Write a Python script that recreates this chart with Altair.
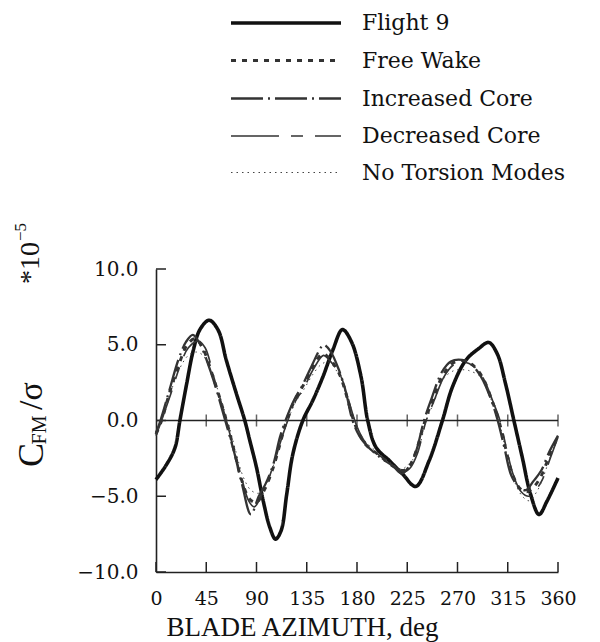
import altair as alt
import pandas as pd

# ---------------- data ----------------
series_names = ["Flight 9", "Free Wake", "Increased Core", "Decreased Core", "No Torsion Modes"]

flight9_az = [0, 9.5, 17, 21.4, 27.4, 33.3, 39.3, 47.6, 55.7, 63, 72, 79.5, 84, 90, 96, 102, 107, 112,
              117, 122.6, 131.5, 140.4, 149.4, 158.3, 167, 175, 183.6, 189.6, 197, 209, 220.8, 232.6,
              244.6, 256.5, 265.4, 277.4, 289, 298, 305.6, 313, 320.5, 328, 335.4, 343, 350.3, 360]
flight9_val = [-3.9, -2.9, -1.8, 0.0, 2.4, 4.6, 6.0, 6.62, 5.96, 3.97, 1.77, 0.0, -1.32, -3.1, -5.3, -7.07, -7.83, -7.28,
               -4.9, -2.2, 0.0, 1.32, 2.87, 4.64, 6.0, 5.2, 2.9, 0.0, -1.77, -2.65, -3.53, -4.35,
               -2.65, 0.0, 2.2, 3.97, 4.75, 5.15, 4.4, 2.43, 0.0, -2.43, -4.86, -6.2, -5.3, -3.8]

freewake_az = [0, 5, 12, 21, 28, 35, 41, 51, 63, 70, 77, 84, 90, 97, 105, 112, 117, 124, 131, 140, 149,
               154, 164, 170, 177, 182, 188, 200, 212, 221, 227, 233, 241, 248, 257, 266, 276, 283, 292,
               301, 307, 313, 319, 326, 332, 338, 344, 352, 360]
freewake_val = [-0.9, 0.0, 1.8, 3.8, 5.0, 5.4, 4.9, 2.9, 0.0, -2.0, -4.0, -5.2, -5.4, -4.6, -3.1, -1.3, 0.0, 1.3,
                2.2, 3.5, 4.4, 4.2, 3.1, 1.8, 0.0, -0.9, -1.6, -2.3, -3.0, -3.3, -3.0, -2.0, 0.0, 1.4, 3.0,
                3.8, 3.95, 3.7, 2.9, 1.3, 0.0, -1.8, -3.5, -4.5, -4.7, -4.4, -3.8, -2.4, -1.0]

inccore_az = [0, 4, 12, 20, 27, 33, 39, 50, 62, 70, 77, 85, 92, 98, 105, 111, 116, 124, 131, 140, 146,
              150, 156, 164, 170, 176, 182, 188, 200, 212, 220, 226, 233, 240, 247, 256, 264, 274, 281,
              291, 300, 306, 312, 318, 325, 331, 338, 345, 352, 360]
inccore_val = [-0.8, 0.0, 2.0, 4.0, 5.2, 5.65, 5.1, 3.0, 0.0, -2.1, -4.2, -6.2, -5.0, -4.2, -2.9, -1.1, 0.0, 1.4,
               2.3, 3.7, 4.6, 5.0, 4.6, 3.3, 1.9, 0.0, -1.0, -1.6, -2.4, -3.0, -3.5, -3.1, -2.0, 0.0, 1.5,
               3.2, 3.9, 4.0, 3.8, 2.9, 1.4, 0.0, -1.8, -3.6, -4.4, -4.6, -4.0, -3.3, -2.1, -1.0]

deccore_az = [0, 5, 13, 22, 29, 38, 44, 52, 63, 70, 77, 83, 88, 96, 104, 112, 118, 125, 132, 141, 150,
              155, 165, 171, 178, 183, 189, 201, 213, 222, 228, 234, 242, 249, 258, 267, 276, 284, 293,
              302, 308, 314, 320, 327, 334, 340, 346, 353, 360]
deccore_val = [-1.0, 0.0, 1.7, 3.7, 4.8, 5.25, 4.8, 2.8, 0.0, -2.0, -3.9, -5.3, -5.7, -4.7, -3.2, -1.3, 0.0, 1.3,
               2.1, 3.4, 4.3, 4.0, 3.0, 1.7, 0.0, -0.9, -1.6, -2.35, -3.0, -3.4, -3.1, -2.2, 0.0, 1.3, 2.9,
               3.7, 3.85, 3.6, 2.8, 1.2, 0.0, -1.9, -3.6, -4.7, -5.0, -4.6, -3.9, -2.5, -1.1]

notorsion_az = [0, 5, 12, 21, 29, 36, 42, 52, 64, 71, 78, 85, 92, 98, 105, 112, 118, 125, 132, 141, 148,
                154, 164, 170, 178, 183, 189, 200, 212, 220, 226, 234, 242, 249, 258, 267, 274, 280, 292,
                301, 307, 313, 319, 327, 334, 341, 347, 353, 360]
notorsion_val = [-0.9, 0.0, 1.6, 3.4, 4.3, 4.52, 4.3, 2.7, 0.0, -1.9, -3.7, -4.6, -4.8, -4.3, -3.0, -1.2, 0.0, 1.2,
                 2.0, 3.1, 3.7, 3.86, 3.0, 1.7, 0.0, -0.9, -1.5, -2.2, -2.9, -3.2, -2.9, -2.1, 0.0, 1.2, 2.8,
                 3.3, 3.35, 3.3, 2.8, 1.2, 0.0, -1.9, -3.6, -4.9, -5.3, -4.7, -3.7, -2.4, -1.1]

x_ticks = [0, 45, 90, 135, 180, 225, 270, 315, 360]
y_ticks = [-10, -5, 0, 5, 10]

# ---------------- tables ----------------
rows = []
for name, az, val in [
    ("Flight 9", flight9_az, flight9_val),
    ("Free Wake", freewake_az, freewake_val),
    ("Increased Core", inccore_az, inccore_val),
    ("Decreased Core", deccore_az, deccore_val),
    ("No Torsion Modes", notorsion_az, notorsion_val),
]:
    for a, v in zip(az, val):
        rows.append({"series": name, "azimuth": a, "cfm": v})
df = pd.DataFrame(rows)

xt = pd.DataFrame({"azimuth": x_ticks, "zero": [0] * len(x_ticks)})
yt = pd.DataFrame({"cfm": y_ticks})

W, H = 402, 303
xscale = alt.Scale(domain=[0, 360], nice=False, zero=False)
yscale = alt.Scale(domain=[-10, 10], nice=False, zero=False)

lines = alt.Chart(df).mark_line(interpolate="catmull-rom").encode(
    x=alt.X("azimuth:Q", scale=xscale,
            axis=alt.Axis(values=x_ticks, title="BLADE AZIMUTH, deg", ticks=False, grid=False,
                          labelFont="DejaVu Serif", labelFontSize=19, labelColor="#111",
                          labelPadding=17, domainColor="#222", domainWidth=1.6,
                          titleFont="Liberation Serif", titleFontSize=27, titleFontWeight="normal",
                          titleColor="#111", titleX=146, titleY=63, titleBaseline="alphabetic",
                          labelFlush=False)),
    y=alt.Y("cfm:Q", scale=yscale,
            axis=alt.Axis(values=y_ticks, format=".1f", title=None, ticks=False, grid=False,
                          labelFont="DejaVu Serif", labelFontSize=20, labelColor="#111",
                          labelPadding=18, domainColor="#222", domainWidth=1.6)),
    color=alt.Color("series:N", sort=series_names,
                    scale=alt.Scale(domain=series_names,
                                    range=["#111111", "#333333", "#333333", "#333333", "#444444"]),
                    legend=alt.Legend(
                        orient="none", legendX=117, legendY=-259, title=None, padding=0,
                        symbolType="M-5,0H5", symbolSize=484, symbolStrokeColor="#111",
                        labelFont="DejaVu Serif", labelFontSize=22, labelColor="#111",
                        labelOffset=63, rowPadding=14, labelLimit=400)),
    strokeDash=alt.StrokeDash("series:N", sort=series_names,
                              scale=alt.Scale(domain=series_names,
                                              range=[[1, 0], [5, 6], [32, 5, 2, 5], [48, 12, 12, 12], [1.5, 4]])),
    strokeWidth=alt.StrokeWidth("series:N", sort=series_names,
                                scale=alt.Scale(domain=series_names, range=[3.6, 1.0, 1.0, 1.0, 1.1])),
)

zero_line = alt.Chart(xt).mark_rule(color="#222", strokeWidth=1.6).encode(
    y=alt.Y("mean(zero):Q", scale=yscale), x=alt.value(0), x2=alt.value(W))

zero_ticks = alt.Chart(xt[xt.azimuth > 0]).mark_tick(color="#222", thickness=1.5, size=12, orient="vertical").encode(
    x=alt.X("azimuth:Q", scale=xscale), y=alt.Y("zero:Q", scale=yscale))

bottom_ticks = alt.Chart(xt).mark_rule(color="#222", strokeWidth=1.5).encode(
    x=alt.X("azimuth:Q", scale=xscale), y=alt.value(H), y2=alt.value(H - 10))

left_ticks = alt.Chart(yt).mark_rule(color="#222", strokeWidth=1.5).encode(
    y=alt.Y("cfm:Q", scale=yscale), x=alt.value(0), x2=alt.value(10))

# y-axis title pieces: C_FM / sigma and *10^-5
ytitle = pd.DataFrame({
    "t": ["C", "FM", "/σ", "*10", "−5"],
    "px": [-124, -116, -124, -125, -135],
    "py": [186, 161, 127, -6, -37],
    "fs": [36, 20, 34, 28, 17],
})
title_layers = []
for _, r in ytitle.iterrows():
    title_layers.append(
        alt.Chart(pd.DataFrame({"t": [r.t]})).mark_text(
            angle=270, align="center", baseline="middle", font="Liberation Serif",
            fontSize=int(r.fs), color="#111").encode(
            text="t:N", x=alt.value(float(r.px)), y=alt.value(float(r.py)))
    )

chart = alt.layer(zero_line, zero_ticks, bottom_ticks, left_ticks, lines, *title_layers).properties(
    width=W, height=H,
    autosize=alt.AutoSizeParams(type="none"),
    padding={"left": 156, "top": 269, "right": 42, "bottom": 70},
    background="white",
).configure_view(stroke=None)

chart.save("out.html", embed_options={"renderer": "svg", "actions": False})
